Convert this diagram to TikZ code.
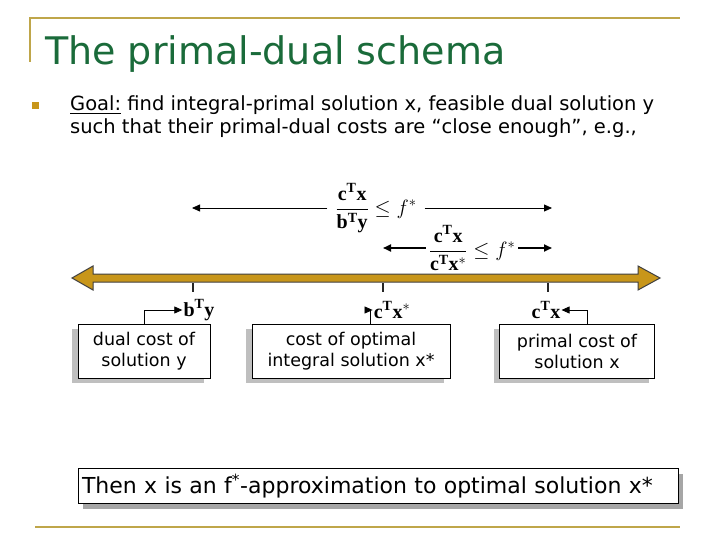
\documentclass[tikz,border=0pt]{standalone}
\usepackage{amsmath, amssymb}
\usepackage{fontspec}
\setmainfont{DejaVu Sans}
\setmathrm{Liberation Serif}
\setboldmathrm{Liberation Serif Bold}
\usepackage{xcolor}
\usepackage{tikz}
\usetikzlibrary{arrows.meta, positioning, shadows, calc}
\definecolor{titlegreen}{HTML}{1A6B3A}
\definecolor{rulegold}{HTML}{BFA64A}
\definecolor{bargold}{HTML}{C8961A}
\tikzset{
  costbox/.style={rectangle, draw=black, fill=white, align=center, inner sep=2pt,
    font=\fontsize{17.5}{21}\selectfont,
    drop shadow={shadow xshift=-6pt, shadow yshift=-5pt, fill=gray!50, opacity=1}},
  mathlabel/.style={font=\fontsize{20}{22}\selectfont, inner sep=1pt},
  arrow/.style={thick, -{Triangle[length=8pt,width=7pt]}},
  costtick/.style={line width=2.5pt, black!85},
  goldrule/.style={rulegold, line width=2pt},
}

\begin{document}
\begin{tikzpicture}[x=1pt, y=-1pt]
    \useasboundingbox[fill=white] (0,0) rectangle (720,540);
    % slide frame
    \draw[goldrule] (30,62) -- (30,18) -- (680,18);
    \draw[goldrule] (35,527) -- (680,527);
    \node[anchor=base west, text=titlegreen, font=\fontsize{38}{40}\selectfont, inner sep=0pt] (title) at (45,65) {The primal-dual schema};
    \node[fill=bargold, minimum size=7pt, inner sep=0pt] (bullet) at (35,106) {};
    \node[anchor=north west, align=left, font=\fontsize{19.5}{23}\selectfont, inner sep=0pt] (goal) at (70,95)
        {\underline{Goal:} find integral-primal solution x, feasible dual solution y\\
         such that their primal-dual costs are ``close enough'', e.g.,};

    % ratios above the cost line
    \node[mathlabel, inner sep=8pt] (ratio) at (376,208) {$\dfrac{\mathbf{c}^{\mathbf{T}}\mathbf{x}}{\mathbf{b}^{\mathbf{T}}\mathbf{y}}\le f^{*}$};
    \coordinate (rl) at (192,208);
    \coordinate (rr) at (552,208);
    \draw[arrow] (ratio) -- (rl);
    \draw[arrow] (ratio) -- (rr);
    \node[mathlabel, inner sep=3pt] (ratio2) at (472,248) {$\dfrac{\mathbf{c}^{\mathbf{T}}\mathbf{x}}{\mathbf{c}^{\mathbf{T}}\mathbf{x}^{*}}\le f^{*}$};
    \coordinate (sl) at (383,248);
    \coordinate (sr) at (552,248);
    \draw[arrow, line width=1.8pt] (ratio2) -- (sl);
    \draw[arrow, line width=1.8pt] (ratio2) -- (sr);

    % the cost line
    \draw[fill=bargold, draw=black!75, line width=1pt]
        (72,278) -- (93,266) -- (93,274) -- (638,274) -- (638,266) -- (660,278)
        -- (638,290) -- (638,282) -- (93,282) -- (93,290) -- cycle;
    \draw[costtick] (193,283) -- (193,292);
    \draw[costtick] (383,283) -- (383,292);
    \draw[costtick] (548,283) -- (548,292);

    % costs
    \node[mathlabel] (bty) at (199,310) {$\mathbf{b}^{\mathbf{T}}\mathbf{y}$};
    \node[mathlabel] (ctxs) at (392,310) {$\mathbf{c}^{\mathbf{T}}\mathbf{x}^{*}$};
    \node[mathlabel] (ctx) at (546,310) {$\mathbf{c}^{\mathbf{T}}\mathbf{x}$};
    \node[costbox, minimum width=132pt, minimum height=54pt] (dual) at (144,351) {dual cost of\\solution y};
    \node[costbox, minimum width=198pt, minimum height=54pt] (opt) at (351,351) {cost of optimal\\integral solution x*};
    \node[costbox, minimum width=155pt, minimum height=54pt] (primal) at (577,351) {primal cost of\\solution x};
    \draw[arrow] (dual.north) |- (bty.west);
    \draw[arrow] ([xshift=19pt]opt.north) |- (ctxs.west);
    \draw[arrow] ([xshift=10pt]primal.north) |- (ctx.east);

    \node[draw=black, fill=white, minimum width=600pt, minimum height=35pt, text width=592pt, align=left,
        font=\fontsize{22}{24}\selectfont, drop shadow={shadow xshift=5pt, shadow yshift=-5pt, fill=gray!70, opacity=1}]
        (approx) at (378,486) {Then x is an f\textsuperscript{*}-approximation to optimal solution x*};
\end{tikzpicture}
\end{document}
